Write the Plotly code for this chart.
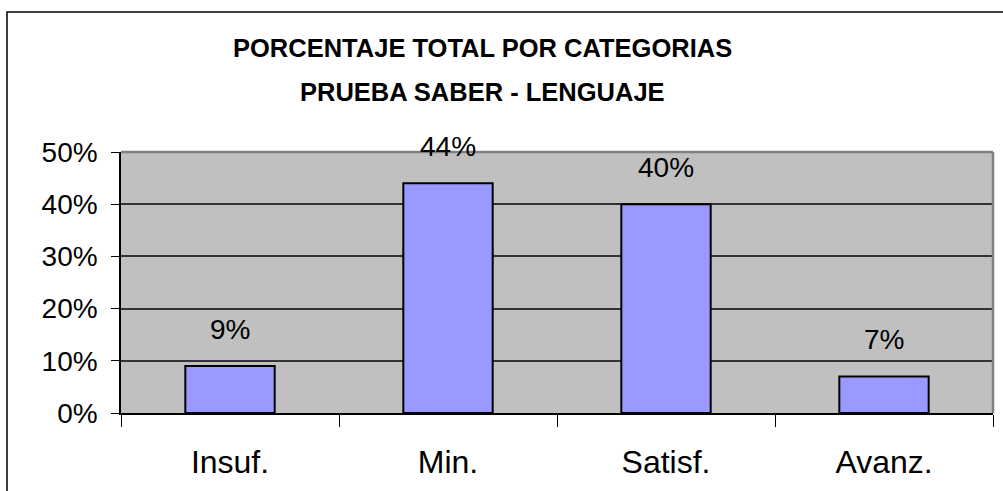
import plotly.graph_objects as go

categories = ["Insuf.", "Min.", "Satisf.", "Avanz."]
values = [0.09, 0.44, 0.40, 0.07]
labels = ["9%", "44%", "40%", "7%"]
title_lines = ["PORCENTAJE TOTAL POR CATEGORIAS", "PRUEBA SABER - LENGUAJE"]
y_ticks = [0, 0.1, 0.2, 0.3, 0.4, 0.5]
y_ticktext = ["0%", "10%", "20%", "30%", "40%", "50%"]

W, H = 1003, 491
L, R, T, B = 121, 10, 152, 78
pw, ph = W - L - R, H - T - B

def px_x(x):
    return (x - L) / pw

def px_y(y):
    return (H - B - y) / ph

FONT = "Liberation Sans, Arial, sans-serif"

fig = go.Figure()
fig.add_trace(go.Bar(
    x=categories, y=values,
    marker=dict(color="#9999FF", line=dict(color="black", width=2)),
    width=0.41,
    hoverinfo="skip",
))

for c, v, t in zip(categories, values, labels):
    fig.add_annotation(x=c, y=v, text=t, showarrow=False, yshift=37,
                       yanchor="middle", xanchor="center",
                       font=dict(family=FONT, size=28, color="black"))

for i, line in enumerate(title_lines):
    fig.add_annotation(xref="paper", yref="paper", x=px_x(482), y=px_y([48, 92][i]),
                       text="<b>" + line + "</b>", showarrow=False,
                       xanchor="center", yanchor="middle",
                       font=dict(family=FONT, size=25.5, color="black"))

# outer chart frame (cropped on right/bottom)
fig.add_shape(type="rect", xref="paper", yref="paper",
              x0=px_x(7), x1=px_x(1012), y0=px_y(500), y1=px_y(12),
              line=dict(color="black", width=1.5), layer="below")
# gray top/right border of plot area
fig.add_shape(type="line", xref="paper", yref="paper", x0=0, x1=1, y0=1, y1=1,
              line=dict(color="#808080", width=2.5))
fig.add_shape(type="line", xref="paper", yref="paper", x0=1, x1=1, y0=0, y1=1,
              line=dict(color="#808080", width=2.5))

fig.update_layout(
    width=W, height=H,
    margin=dict(l=L, r=R, t=T, b=B, pad=0),
    paper_bgcolor="white", plot_bgcolor="#C0C0C0",
    showlegend=False,
    font=dict(family=FONT, color="black"),
    xaxis=dict(
        type="category", range=[-0.5, 3.5],
        showgrid=False, showline=True, linecolor="black", linewidth=1.5,
        ticks="outside", ticklen=12, tickcolor="black", tickwidth=1,
        tickson="boundaries", ticklabelstandoff=20,
        tickfont=dict(family=FONT, size=32, color="black"),
        fixedrange=True,
    ),
    yaxis=dict(
        range=[0, 0.5], tickvals=y_ticks, ticktext=y_ticktext,
        showgrid=True, gridcolor="#333333", gridwidth=1.5,
        showline=True, linecolor="black", linewidth=1.5,
        ticks="outside", ticklen=8, tickcolor="black", tickwidth=1,
        ticklabelstandoff=8, zeroline=False,
        tickfont=dict(family=FONT, size=28, color="black"),
        fixedrange=True,
    ),
)

fig.write_html("out.html", config={"displayModeBar": False},
               post_script="document.body.style.margin='0';document.body.style.overflow='hidden';")
